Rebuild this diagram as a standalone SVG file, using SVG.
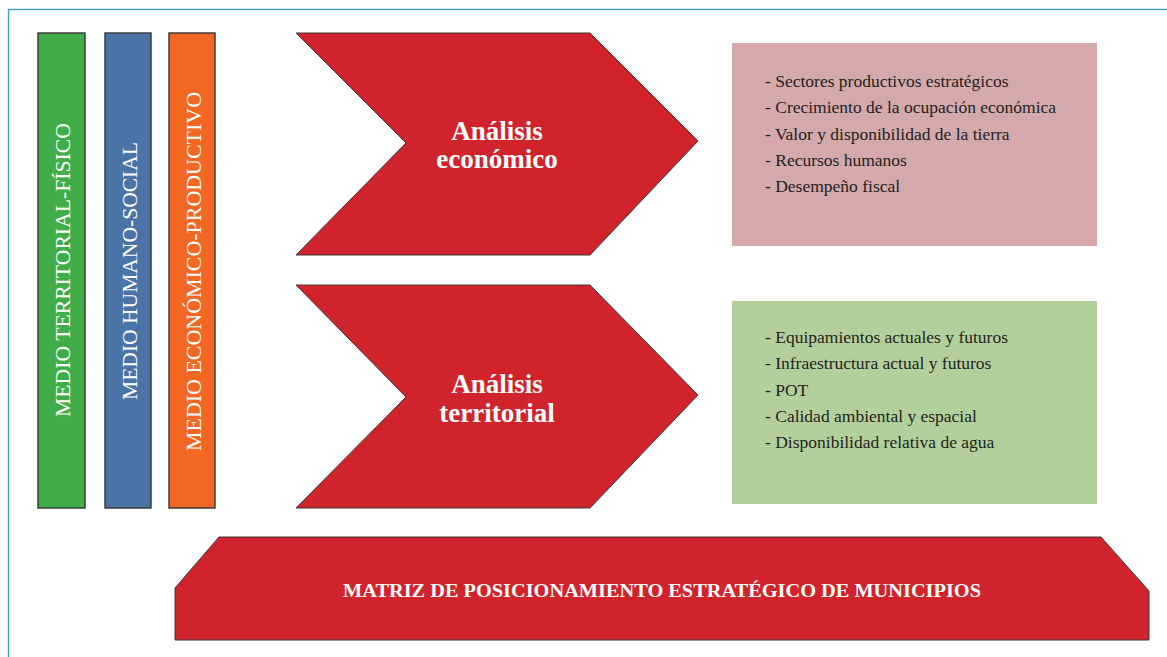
<svg xmlns="http://www.w3.org/2000/svg" width="1167" height="657" viewBox="0 0 1167 657">
  <style>
    .frame { fill: none; stroke: #3b9dc2; stroke-width: 1.4; }
    .bar { stroke: #333333; stroke-width: 1.4; }
    .red { fill: #d0232b; stroke: #3a3a3a; stroke-width: 1; }
    .vtxt { font-family: "Liberation Serif", "Times New Roman", serif; font-size: 22px; fill: #ffffff; }
    .chev { font-family: "Liberation Serif", "Times New Roman", serif; font-size: 27px; font-weight: bold; fill: #ffffff; text-anchor: middle; }
    .item { font-family: "Liberation Serif", "Times New Roman", serif; font-size: 17.5px; fill: #231f20; }
    .matriz { font-family: "Liberation Serif", "Times New Roman", serif; font-size: 18px; font-weight: bold; fill: #ffffff; text-anchor: middle; }
  </style>
  <rect x="0" y="0" width="1167" height="657" fill="#ffffff"/>
  <rect class="frame" x="8.5" y="9.5" width="1180" height="680"/>

  <g id="bar-territorial">
    <rect class="bar" x="38" y="33" width="47" height="475" fill="#41ad49"/>
    <text class="vtxt" transform="translate(70 417) rotate(-90)" textLength="294" lengthAdjust="spacingAndGlyphs">MEDIO TERRITORIAL-FÍSICO</text>
  </g>
  <g id="bar-humano">
    <rect class="bar" x="105" y="33" width="46" height="475" fill="#4a74a6"/>
    <text class="vtxt" transform="translate(137 400) rotate(-90)" textLength="258" lengthAdjust="spacingAndGlyphs">MEDIO HUMANO-SOCIAL</text>
  </g>
  <g id="bar-economico">
    <rect class="bar" x="169" y="33" width="46" height="475" fill="#f26722"/>
    <text class="vtxt" transform="translate(201 451) rotate(-90)" textLength="359" lengthAdjust="spacingAndGlyphs">MEDIO ECONÓMICO-PRODUCTIVO</text>
  </g>

  <g id="analisis-economico">
    <polygon class="red" points="296,33 590,33 698,141 590,255 296,255 406,143"/>
    <text class="chev" x="497" y="140">Análisis</text>
    <text class="chev" x="497" y="168">económico</text>
  </g>
  <g id="analisis-territorial">
    <polygon class="red" points="296,285 590,285 698,395 590,508 296,508 406,397"/>
    <text class="chev" x="497" y="393">Análisis</text>
    <text class="chev" x="497" y="422">territorial</text>
  </g>

  <g id="box-economico">
    <rect x="732" y="43" width="365" height="203" fill="#d5a8aa"/>
    <text class="item" x="765" y="86.5">- Sectores productivos estratégicos</text>
    <text class="item" x="765" y="113">- Crecimiento de la ocupación económica</text>
    <text class="item" x="765" y="139.5">- Valor y disponibilidad de la tierra</text>
    <text class="item" x="765" y="166">- Recursos humanos</text>
    <text class="item" x="765" y="192">- Desempeño fiscal</text>
  </g>
  <g id="box-territorial">
    <rect x="732" y="301" width="365" height="203" fill="#b3d09b"/>
    <text class="item" x="765" y="342.5">- Equipamientos actuales y futuros</text>
    <text class="item" x="765" y="369">- Infraestructura actual y futuros</text>
    <text class="item" x="765" y="395.5">- POT</text>
    <text class="item" x="765" y="422">- Calidad ambiental y espacial</text>
    <text class="item" x="765" y="448">- Disponibilidad relativa de agua</text>
  </g>

  <g id="matriz">
    <polygon class="red" points="219,537 1101,537 1149,591 1149,640 175,640 175,588"/>
    <text class="matriz" x="662" y="597" textLength="638" lengthAdjust="spacingAndGlyphs">MATRIZ DE POSICIONAMIENTO ESTRATÉGICO DE MUNICIPIOS</text>
  </g>
</svg>
